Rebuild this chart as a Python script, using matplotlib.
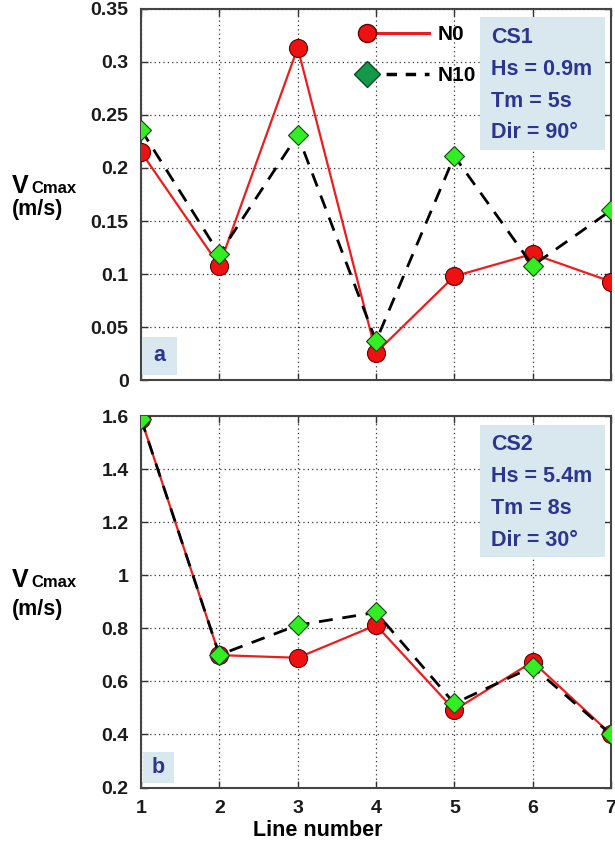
import matplotlib.pyplot as plt
from matplotlib.lines import Line2D
from matplotlib.patches import Rectangle
from matplotlib.legend_handler import HandlerLine2D

plt.rcParams['font.family'] = ['Liberation Sans', 'DejaVu Sans']
plt.rcParams['font.weight'] = 'bold'

# data
line_no = [1, 2, 3, 4, 5, 6, 7]

cs1_n0 = [0.215, 0.108, 0.313, 0.026, 0.098, 0.119, 0.093]
cs1_n10 = [0.236, 0.119, 0.231, 0.037, 0.211, 0.108, 0.160]

cs2_n0 = [1.59, 0.699, 0.689, 0.812, 0.492, 0.674, 0.401]
cs2_n10 = [1.59, 0.700, 0.812, 0.860, 0.517, 0.655, 0.400]

yticks_a = [0, 0.05, 0.1, 0.15, 0.2, 0.25, 0.3, 0.35]
ylabels_a = ['0', '0.05', '0.1', '0.15', '0.2', '0.25', '0.3', '0.35']
yticks_b = [0.2, 0.4, 0.6, 0.8, 1.0, 1.2, 1.4, 1.6]
ylabels_b = ['0.2', '0.4', '0.6', '0.8', '1', '1.2', '1.4', '1.6']

info_a = ['CS1', 'Hs = 0.9m', 'Tm = 5s', 'Dir = 90°']
info_b = ['CS2', 'Hs = 5.4m', 'Tm = 8s', 'Dir = 30°']

red = '#ee1c1c'
green = '#33ee22'
navy = '#2e3590'
boxc = '#d8e8ee'


class LeftMarkerHandler(HandlerLine2D):
    # marker at the left end of the legend line
    def create_artists(self, *args, **kwargs):
        arts = super().create_artists(*args, **kwargs)
        for a in arts:
            if isinstance(a, Line2D):
                a.set_markevery([0])
        return arts


fig = plt.figure(figsize=(6.15, 8.46), dpi=100)
ax1 = fig.add_axes([0.2293, 0.5504, 0.7642, 0.4395])
ax2 = fig.add_axes([0.2293, 0.0691, 0.7642, 0.4391])


def draw_panel(ax, n0, n10, yt, yl, ylim, info, tag, tagbox):
    ax.plot(line_no, n0, color=red, lw=1.6, marker='o', ms=13,
            mfc='#ee1111', mec='#660000', mew=0.8, zorder=3)
    ax.plot(line_no, n10, color='black', lw=2, ls=(0, (5, 3.5)), marker='D', ms=10,
            mfc=green, mec='#114411', mew=0.8, zorder=4)
    ax.set_xlim(1, 7)
    ax.set_ylim(*ylim)
    ax.set_xticks(line_no)
    ax.set_yticks(yt)
    ax.set_yticklabels(yl)
    ax.grid(True, ls=(0, (1, 2.5)), color='#333333', lw=0.9)
    ax.tick_params(direction='in', top=True, right=True, length=5, width=1,
                   labelsize=14, pad=9, colors='#333333', labelcolor='#1a1a1a')
    for s in ax.spines.values():
        s.set_color('#444444')
        s.set_linewidth(1.5)
    # info box
    ax.add_patch(Rectangle((0.721, 0.620), 0.266, 0.357, transform=ax.transAxes,
                           fc=boxc, ec='none', zorder=5))
    for i, s in enumerate(info):
        ax.text(0.745, 0.9075 - i * 0.0855, s, transform=ax.transAxes, ha='left',
                va='baseline', fontsize=15.5, color=navy, zorder=6)
    # panel tag
    x0, y0, w, h = tagbox
    ax.add_patch(Rectangle((x0, y0), w, h, transform=ax.transAxes,
                           fc=boxc, ec='none', zorder=5))
    ax.text(x0 + w / 2, y0 + h / 2, tag, transform=ax.transAxes, ha='center',
            va='center', fontsize=15.5, color=navy, zorder=6)


draw_panel(ax1, cs1_n0, cs1_n10, yticks_a, ylabels_a, (0, 0.35), info_a, 'a',
           (0.003, 0.0145, 0.0725, 0.1025))
ax1.tick_params(labelbottom=False)
draw_panel(ax2, cs2_n0, cs2_n10, yticks_b, ylabels_b, (0.2, 1.6), info_b, 'b',
           (0.004, 0.012, 0.066, 0.0836))

h0 = Line2D([], [], color=red, lw=2.2, marker='o', ms=13, mfc='#ee1111', mec='#660000')
h10 = Line2D([], [], color='black', lw=2.5, ls=(0, (3, 2.5)), marker='D', ms=13,
             mfc='#139a48', mec='#0b4a22')
ax1.legend([h0, h10], ['N0', 'N10'], loc='upper left', bbox_to_anchor=(0.44, 1.005),
           frameon=False, fontsize=15, handlelength=3.0, handletextpad=0.4,
           labelspacing=1.05, handler_map={Line2D: LeftMarkerHandler()})

fig.text(318 / 615, 1 - 830 / 846, 'Line number', ha='center', va='center', fontsize=15.5)

# y labels "V_Cmax (m/s)"
for base_v, base_ms in [(193, 215), (587, 615)]:
    fig.text(12 / 615, 1 - base_v / 846, 'V', ha='left', va='baseline', fontsize=18)
    fig.text(31 / 615, 1 - base_v / 846, 'Cmax', ha='left', va='baseline', fontsize=12)
    fig.text(12 / 615, 1 - base_ms / 846, '(m/s)', ha='left', va='baseline', fontsize=15.5)

fig.savefig('out.png', dpi=100)
